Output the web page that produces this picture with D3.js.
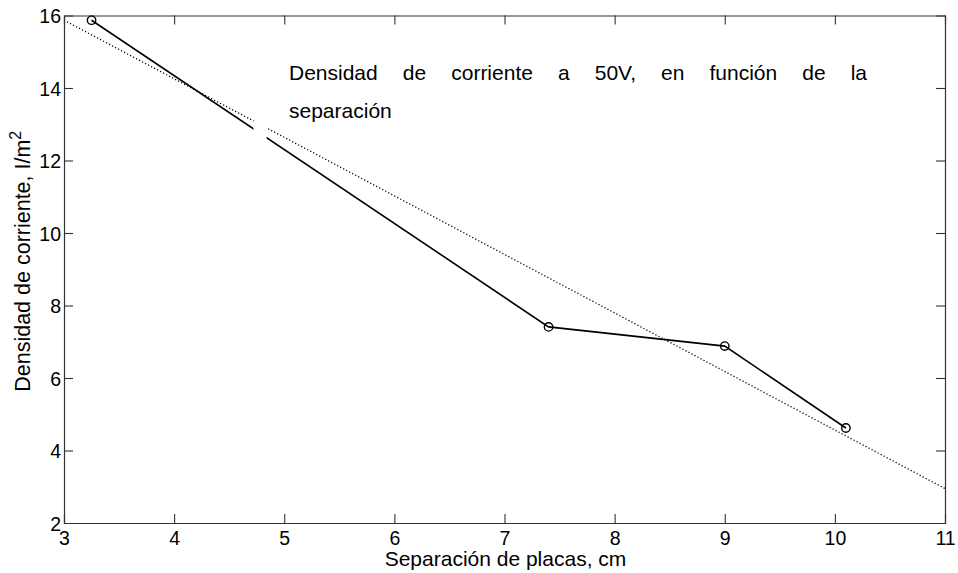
<!DOCTYPE html>
<html><head><meta charset="utf-8">
<script src="https://cdn.jsdelivr.net/npm/d3@7"></script>
<style>body{margin:0;background:#fff}svg{display:block}text{font-family:Arial,"Liberation Sans",sans-serif;fill:#000}</style>
</head><body><svg id="c" width="958" height="573"></svg>
<script>
// data
const separation = [3.25, 7.4, 9.0, 10.1];
const density = [15.87, 7.41, 6.88, 4.62];
const fitX = [3, 11];
const fitY = [15.87, 2.95];
const xTicks = [3, 4, 5, 6, 7, 8, 9, 10, 11];
const yTicks = [2, 4, 6, 8, 10, 12, 14, 16];
const titleLine1 = ["Densidad", "de", "corriente", "a", "50V,", "en", "función", "de", "la"];
const titleLine2 = "separación";
const xLabel = "Separación de placas, cm";
const yLabel = "Densidad de corriente, I/m";
const gapBox = {x0: 4.72, x1: 4.84, y0: 12.0, y1: 13.1};

const L = 64, R = 945, T = 15.5, B = 523;
const x = d3.scaleLinear().domain([3, 11]).range([L, R]);
const y = d3.scaleLinear().domain([2, 16]).range([B, T]);
const svg = d3.select("#c");

const plot = svg.append("g");
const line = d3.line().x(d => x(d[0])).y(d => y(d[1]));

plot.append("path").datum(fitX.map((v, i) => [v, fitY[i]]))
  .attr("d", line).attr("fill", "none").attr("stroke", "#000")
  .attr("stroke-width", 1.3).attr("stroke-dasharray", "1.2,2.2");
plot.append("path").datum(separation.map((v, i) => [v, density[i]]))
  .attr("d", line).attr("fill", "none").attr("stroke", "#000").attr("stroke-width", 1.6);
plot.selectAll("circle").data(separation.map((v, i) => [v, density[i]])).join("circle")
  .attr("cx", d => x(d[0])).attr("cy", d => y(d[1])).attr("r", 4.2)
  .attr("fill", "none").attr("stroke", "#000").attr("stroke-width", 1.4);
// white box where lines are interrupted
plot.append("rect").attr("x", x(gapBox.x0)).attr("y", y(gapBox.y1))
  .attr("width", x(gapBox.x1) - x(gapBox.x0)).attr("height", y(gapBox.y0) - y(gapBox.y1))
  .attr("fill", "#fff");

// axes
const tl = 9;
const axStroke = "#333";
const gb = svg.append("g").attr("transform", `translate(0,${B})`)
  .call(d3.axisBottom(x).tickValues(xTicks).tickSize(-tl).tickPadding(tl + 5).tickFormat(d3.format("d")));
const gt = svg.append("g").attr("transform", `translate(0,${T})`)
  .call(d3.axisTop(x).tickValues(xTicks).tickSize(-tl).tickFormat(""));
const gl = svg.append("g").attr("transform", `translate(${L},0)`)
  .call(d3.axisLeft(y).tickValues(yTicks).tickSize(-tl).tickPadding(tl + 4).tickFormat(d3.format("d")));
const gr = svg.append("g").attr("transform", `translate(${R},0)`)
  .call(d3.axisRight(y).tickValues(yTicks).tickSize(-tl).tickFormat(""));
[gb, gt, gl, gr].forEach(g => {
  g.select(".domain").attr("stroke", axStroke).attr("stroke-width", 1.2);
  g.selectAll(".tick line").attr("stroke", axStroke).attr("stroke-width", 1.1);
  g.selectAll("text").attr("font-size", 19.5).attr("font-family", "Arial, 'Liberation Sans', sans-serif").attr("fill", "#000");
});
gb.selectAll(".tick text").attr("dy", "0.71em").attr("y", 8);
gl.selectAll(".tick text").attr("x", -3).attr("dy", "0.36em");
// hide first/last end ticks overlapped by box edges
[gb, gt].forEach(g => g.selectAll(".tick").filter(d => d === 3 || d === 11).select("line").remove());
[gl, gr].forEach(g => g.selectAll(".tick").filter(d => d === 2 || d === 16).select("line").remove());

// axis labels
svg.append("text").attr("x", (L + R) / 2 + 1).attr("y", 566).attr("text-anchor", "middle")
  .attr("font-size", 21).text(xLabel);
const yl = svg.append("text").attr("transform", `translate(30,${(T + B) / 2 - 8}) rotate(-90)`)
  .attr("text-anchor", "middle").attr("font-size", 21.5);
yl.append("tspan").text(yLabel);
yl.append("tspan").attr("dy", -9).attr("font-size", 16).text("2");

// justified title text
const tx0 = 289, tx1 = 867, base1 = 80, base2 = 118;
const words = svg.append("g").selectAll("text").data(titleLine1).join("text")
  .attr("font-size", 21).attr("y", base1).text(d => d);
const widths = words.nodes().map(n => n.getComputedTextLength());
const totalW = d3.sum(widths);
const gap = (tx1 - tx0 - totalW) / (titleLine1.length - 1);
let cx = tx0;
words.each(function(d, i) { d3.select(this).attr("x", cx); cx += widths[i] + gap; });
svg.append("text").attr("x", tx0).attr("y", base2).attr("font-size", 21).text(titleLine2);
</script></body></html>
